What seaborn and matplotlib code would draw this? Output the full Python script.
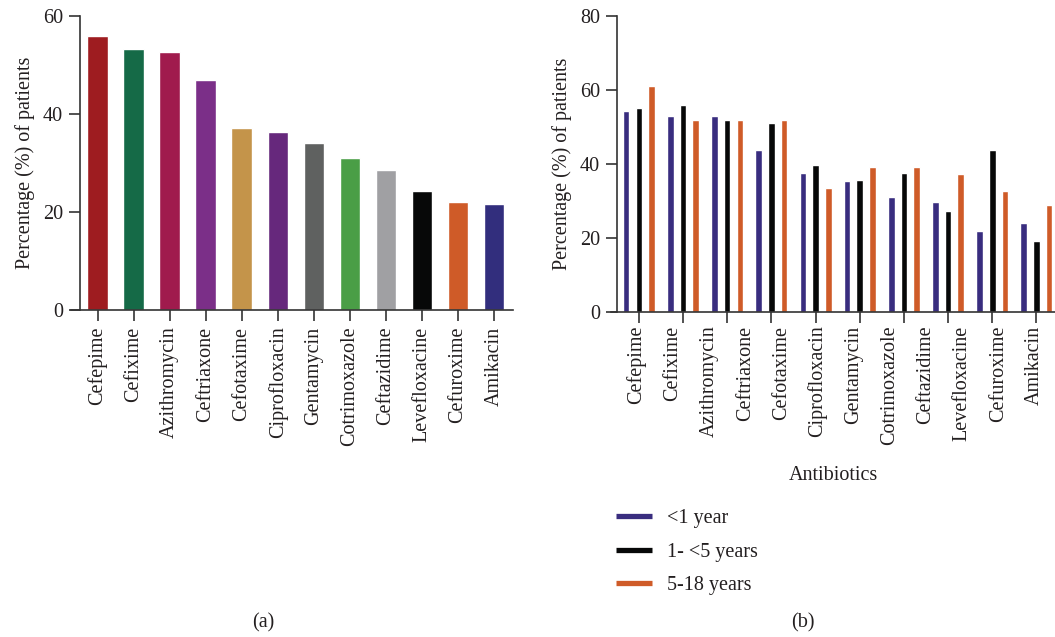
import numpy as np
import pandas as pd
import matplotlib
matplotlib.use("Agg")
import matplotlib.pyplot as plt
from matplotlib.lines import Line2D
import seaborn as sns

# (a) overall resistance
drugs = ["Cefepime", "Cefixime", "Azithromycin", "Ceftriaxone", "Cefotaxime",
         "Ciprofloxacin", "Gentamycin", "Cotrimoxazole", "Ceftazidime",
         "Levefloxacine", "Cefuroxime", "Amikacin"]
overall = [55.9, 53.3, 52.7, 46.9, 37.1, 36.3, 34.1, 31.0, 28.6, 24.3, 22.0, 21.6]
drug_colors = ["#9E1C20", "#156A47", "#A01B4D", "#7B2F88", "#C4944A", "#66287C",
               "#5F6160", "#4A9E46", "#A0A0A3", "#070808", "#CF5B28", "#322E7D"]

# (b) by age group (10 bar groups drawn in the original, 12 labels)
groups = list(range(10))
under1 = [54.3, 52.9, 52.9, 43.7, 37.5, 35.4, 31.0, 29.7, 21.8, 24.0]
one_to5 = [55.1, 55.9, 51.9, 51.0, 39.7, 35.6, 37.5, 27.2, 43.7, 19.1]
five_to18 = [61.1, 51.9, 51.9, 51.9, 33.5, 39.1, 39.1, 37.2, 32.6, 28.9]
ages = ["<1 year", "1- <5 years", "5-18 years"]
age_colors = ["#392D7F", "#070808", "#CF5B28"]

sns.set_style("ticks")
plt.rcParams["font.family"] = ["Liberation Serif", "DejaVu Serif"]
plt.rcParams["text.color"] = "#231F20"
plt.rcParams["axes.labelcolor"] = "#231F20"
plt.rcParams["xtick.color"] = "#333333"
plt.rcParams["ytick.color"] = "#333333"
plt.rcParams["xtick.labelcolor"] = "#231F20"
plt.rcParams["ytick.labelcolor"] = "#231F20"

fig = plt.figure(figsize=(10.55, 6.37), dpi=100)
ax1 = fig.add_axes([71 / 1055, 1 - 310 / 637, 442 / 1055, 294 / 637])
ax2 = fig.add_axes([611 / 1055, 1 - 311.7 / 637, 444 / 1055, 295.7 / 637])

fs = 14.5

# ---- panel (a)
df1 = pd.DataFrame({"drug": drugs, "pct": overall})
sns.barplot(data=df1, x="drug", y="pct", hue="drug", palette=drug_colors,
            width=0.57, saturation=1, legend=False, ax=ax1)
ax1.set_xlim(-0.74, 11.53)
ax1.set_ylim(0, 60)
ax1.set_yticks([0, 20, 40, 60])
ax1.set_xlabel("")
ax1.set_ylabel("Percentage (%) of patients", fontsize=fs, labelpad=6)
ax1.tick_params(axis="x", rotation=90)

# ---- panel (b)
df2 = pd.DataFrame({
    "group": groups * 3,
    "age": [ages[0]] * 10 + [ages[1]] * 10 + [ages[2]] * 10,
    "pct": under1 + one_to5 + five_to18,
})
sns.barplot(data=df2, x="group", y="pct", hue="age", palette=age_colors,
            width=0.86, gap=0.48, saturation=1, legend=False, ax=ax2)
ax2.set_xlim(-0.63, 9.42)
ax2.set_ylim(0, 80)
ax2.set_yticks([0, 20, 40, 60, 80])
ax2.set_xticks(groups, labels=[""] * len(groups))
ax2.set_xticks(np.linspace(-0.05, 8.96, len(drugs)), labels=drugs, minor=True)
ax2.tick_params(axis="x", which="minor", length=0, rotation=90, labelsize=fs, pad=10)
ax2.set_xlabel("Antibiotics", fontsize=fs, labelpad=15)
ax2.set_ylabel("Percentage (%) of patients", fontsize=fs, labelpad=6)

for ax in (ax1, ax2):
    sns.despine(ax=ax)
    ax.spines["left"].set_position(("data", -0.5))
    for s in ("left", "bottom"):
        ax.spines[s].set_color("#333333")
        ax.spines[s].set_linewidth(1.2)
    ax.tick_params(axis="both", which="major", length=8, width=1.2, labelsize=fs, pad=4)

handles = [Line2D([], [], color=c, lw=3.8, solid_capstyle="butt") for c in age_colors]
fig.legend(handles, ages, loc="upper left", bbox_to_anchor=(598 / 1055, 1 - 491 / 637),
           frameon=False, fontsize=fs, handlelength=1.8, handletextpad=0.75,
           labelspacing=0.72)

fig.text(263 / 1055, 1 - 623 / 637, "(a)", ha="center", va="center", fontsize=fs)
fig.text(803 / 1055, 1 - 623 / 637, "(b)", ha="center", va="center", fontsize=fs)

fig.savefig("out.png", dpi=100)
